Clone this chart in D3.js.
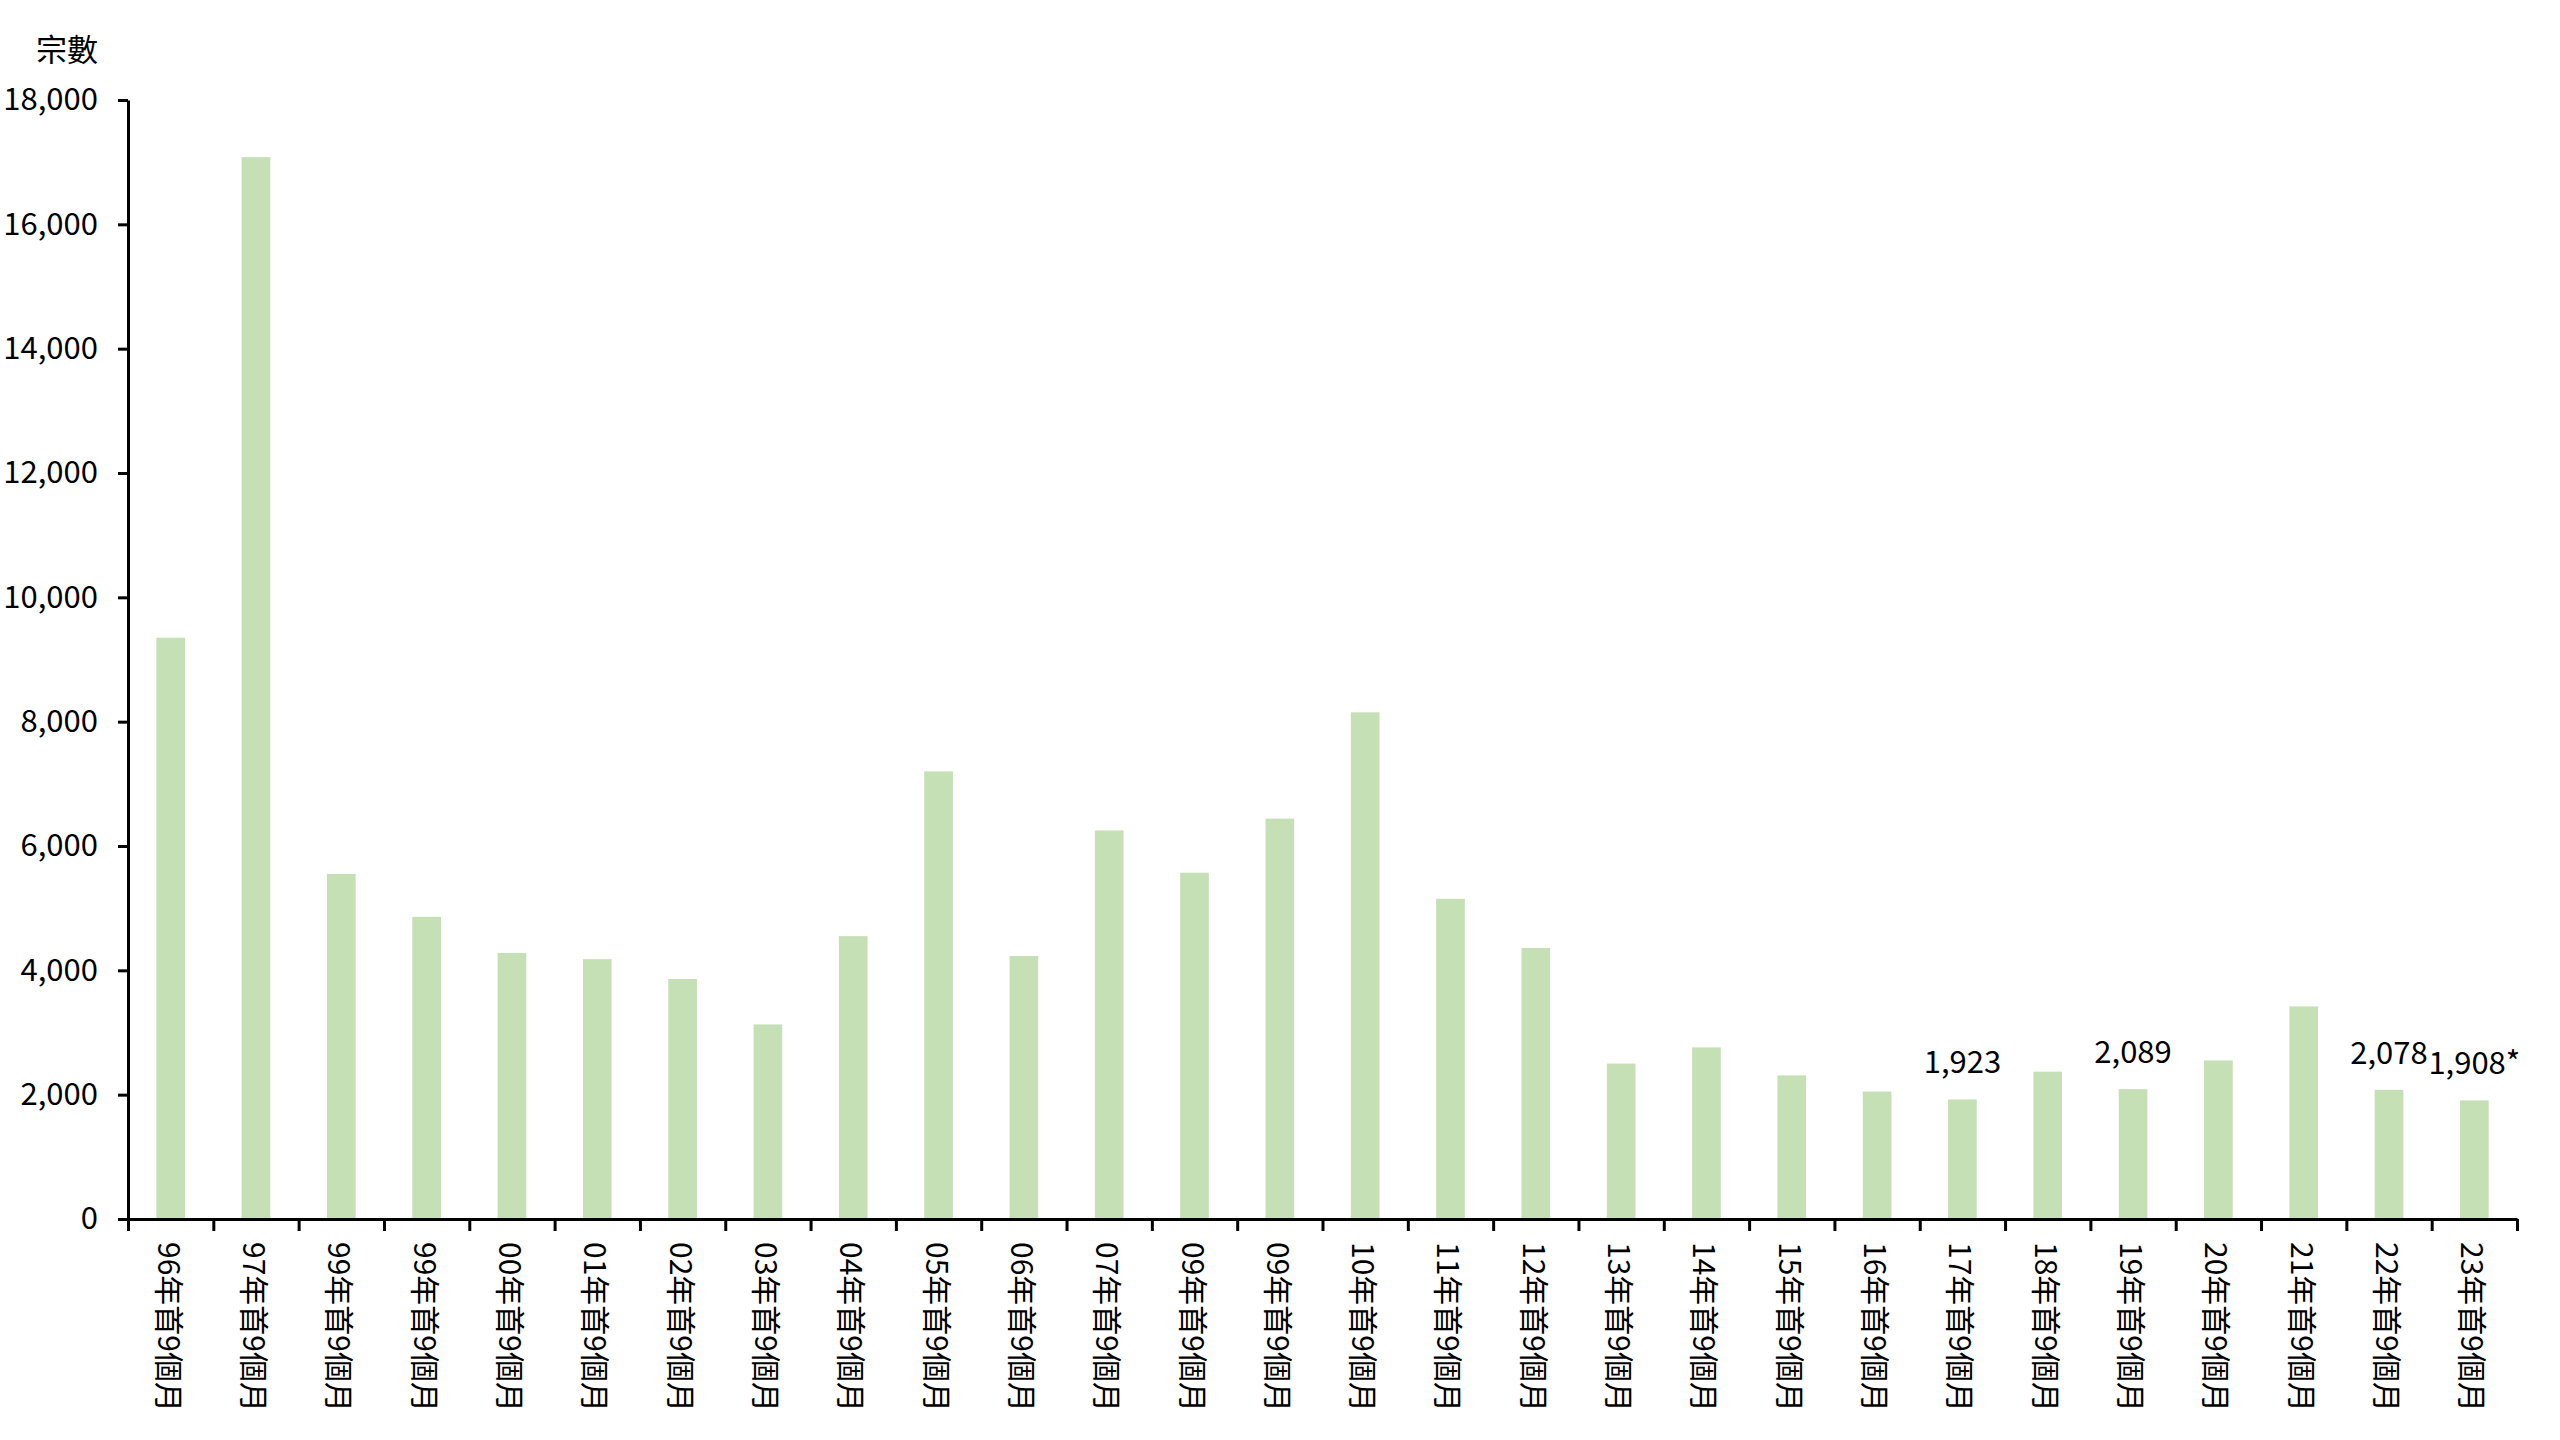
<!DOCTYPE html>
<html>
<head>
<meta charset="utf-8">
<script src="https://cdn.jsdelivr.net/npm/d3@7"></script>
<style>
  html, body { margin: 0; padding: 0; background: #fff; }
  svg { display: block; }
  text { font-family: "Noto Sans CJK TC", "Noto Sans", sans-serif; fill: #000; }
</style>
</head>
<body>
<svg id="chart" width="2560" height="1440"></svg>
<script>
const categories = ["96年首9個月","97年首9個月","99年首9個月","99年首9個月","00年首9個月","01年首9個月","02年首9個月","03年首9個月","04年首9個月","05年首9個月","06年首9個月","07年首9個月","09年首9個月","09年首9個月","10年首9個月","11年首9個月","12年首9個月","13年首9個月","14年首9個月","15年首9個月","16年首9個月","17年首9個月","18年首9個月","19年首9個月","20年首9個月","21年首9個月","22年首9個月","23年首9個月"];
const values = [9350, 17080, 5550, 4860, 4280, 4180, 3860, 3130, 4550, 7200, 4230, 6250, 5570, 6440, 8150, 5150, 4360, 2500, 2760, 2310, 2050, 1923, 2370, 2089, 2550, 3420, 2078, 1908];
const annotIndex = [21, 23, 26, 27];
const annotText = ["1,923", "2,089", "2,078", "1,908*"];
const yTicks = [0, 2000, 4000, 6000, 8000, 10000, 12000, 14000, 16000, 18000];
const yTitle = "宗數";

const svg = d3.select("#chart");
const mLeft = 128, mRight = 2517, mTop = 100, mBottom = 1219;

const y = d3.scaleLinear().domain([0, 18000]).range([mBottom, mTop]);
const xb = d3.scaleBand().domain(d3.range(categories.length)).range([mLeft, mRight]).padding(0);
const xi = d3.scaleLinear().domain([0, categories.length]).range([mLeft, mRight]);
const barW = xb.bandwidth() * 0.336;

// bars
svg.append("g").selectAll("rect").data(values).join("rect")
  .attr("x", (d, i) => xb(i) + (xb.bandwidth() - barW) / 2)
  .attr("y", d => y(d))
  .attr("width", barW)
  .attr("height", d => y(0) - y(d))
  .attr("fill", "#c5e0b4");

// y axis
const yAxis = svg.append("g").attr("transform", `translate(${mLeft},0)`)
  .call(d3.axisLeft(y).tickValues(yTicks).tickFormat(d3.format(",")).tickSizeInner(10).tickSizeOuter(0).tickPadding(20));
yAxis.select(".domain").attr("stroke", "#000").attr("stroke-width", 3);
yAxis.selectAll(".tick line").attr("stroke", "#000").attr("stroke-width", 3);
yAxis.selectAll(".tick text").style("font-size", "31px").attr("font-family", null);

// x axis
const xAxis = svg.append("g").attr("transform", `translate(0,${mBottom})`)
  .call(d3.axisBottom(xi).tickValues(d3.range(categories.length + 1)).tickFormat("").tickSizeInner(12).tickSizeOuter(0));
xAxis.select(".domain").attr("stroke", "#000").attr("stroke-width", 3);
xAxis.selectAll(".tick line").attr("stroke", "#000").attr("stroke-width", 3);

// x labels rotated
svg.append("g").selectAll("text").data(categories).join("text")
  .attr("transform", (d, i) => `translate(${xb(i) + xb.bandwidth() / 2},1242) rotate(90)`)
  .attr("text-anchor", "start")
  .attr("dominant-baseline", "central")
  .style("font-size", "30px")
  .text(d => d);

// annotations
svg.append("g").selectAll("text").data(annotIndex).join("text")
  .attr("x", i => xb(i) + xb.bandwidth() / 2)
  .attr("y", i => y(values[i]) - 26)
  .attr("text-anchor", "middle")
  .style("font-size", "31px")
  .text((d, k) => annotText[k]);

// y title
svg.append("text")
  .attr("x", 98).attr("y", 61)
  .attr("text-anchor", "end")
  .style("font-size", "31px")
  .text(yTitle);
</script>
</body>
</html>
